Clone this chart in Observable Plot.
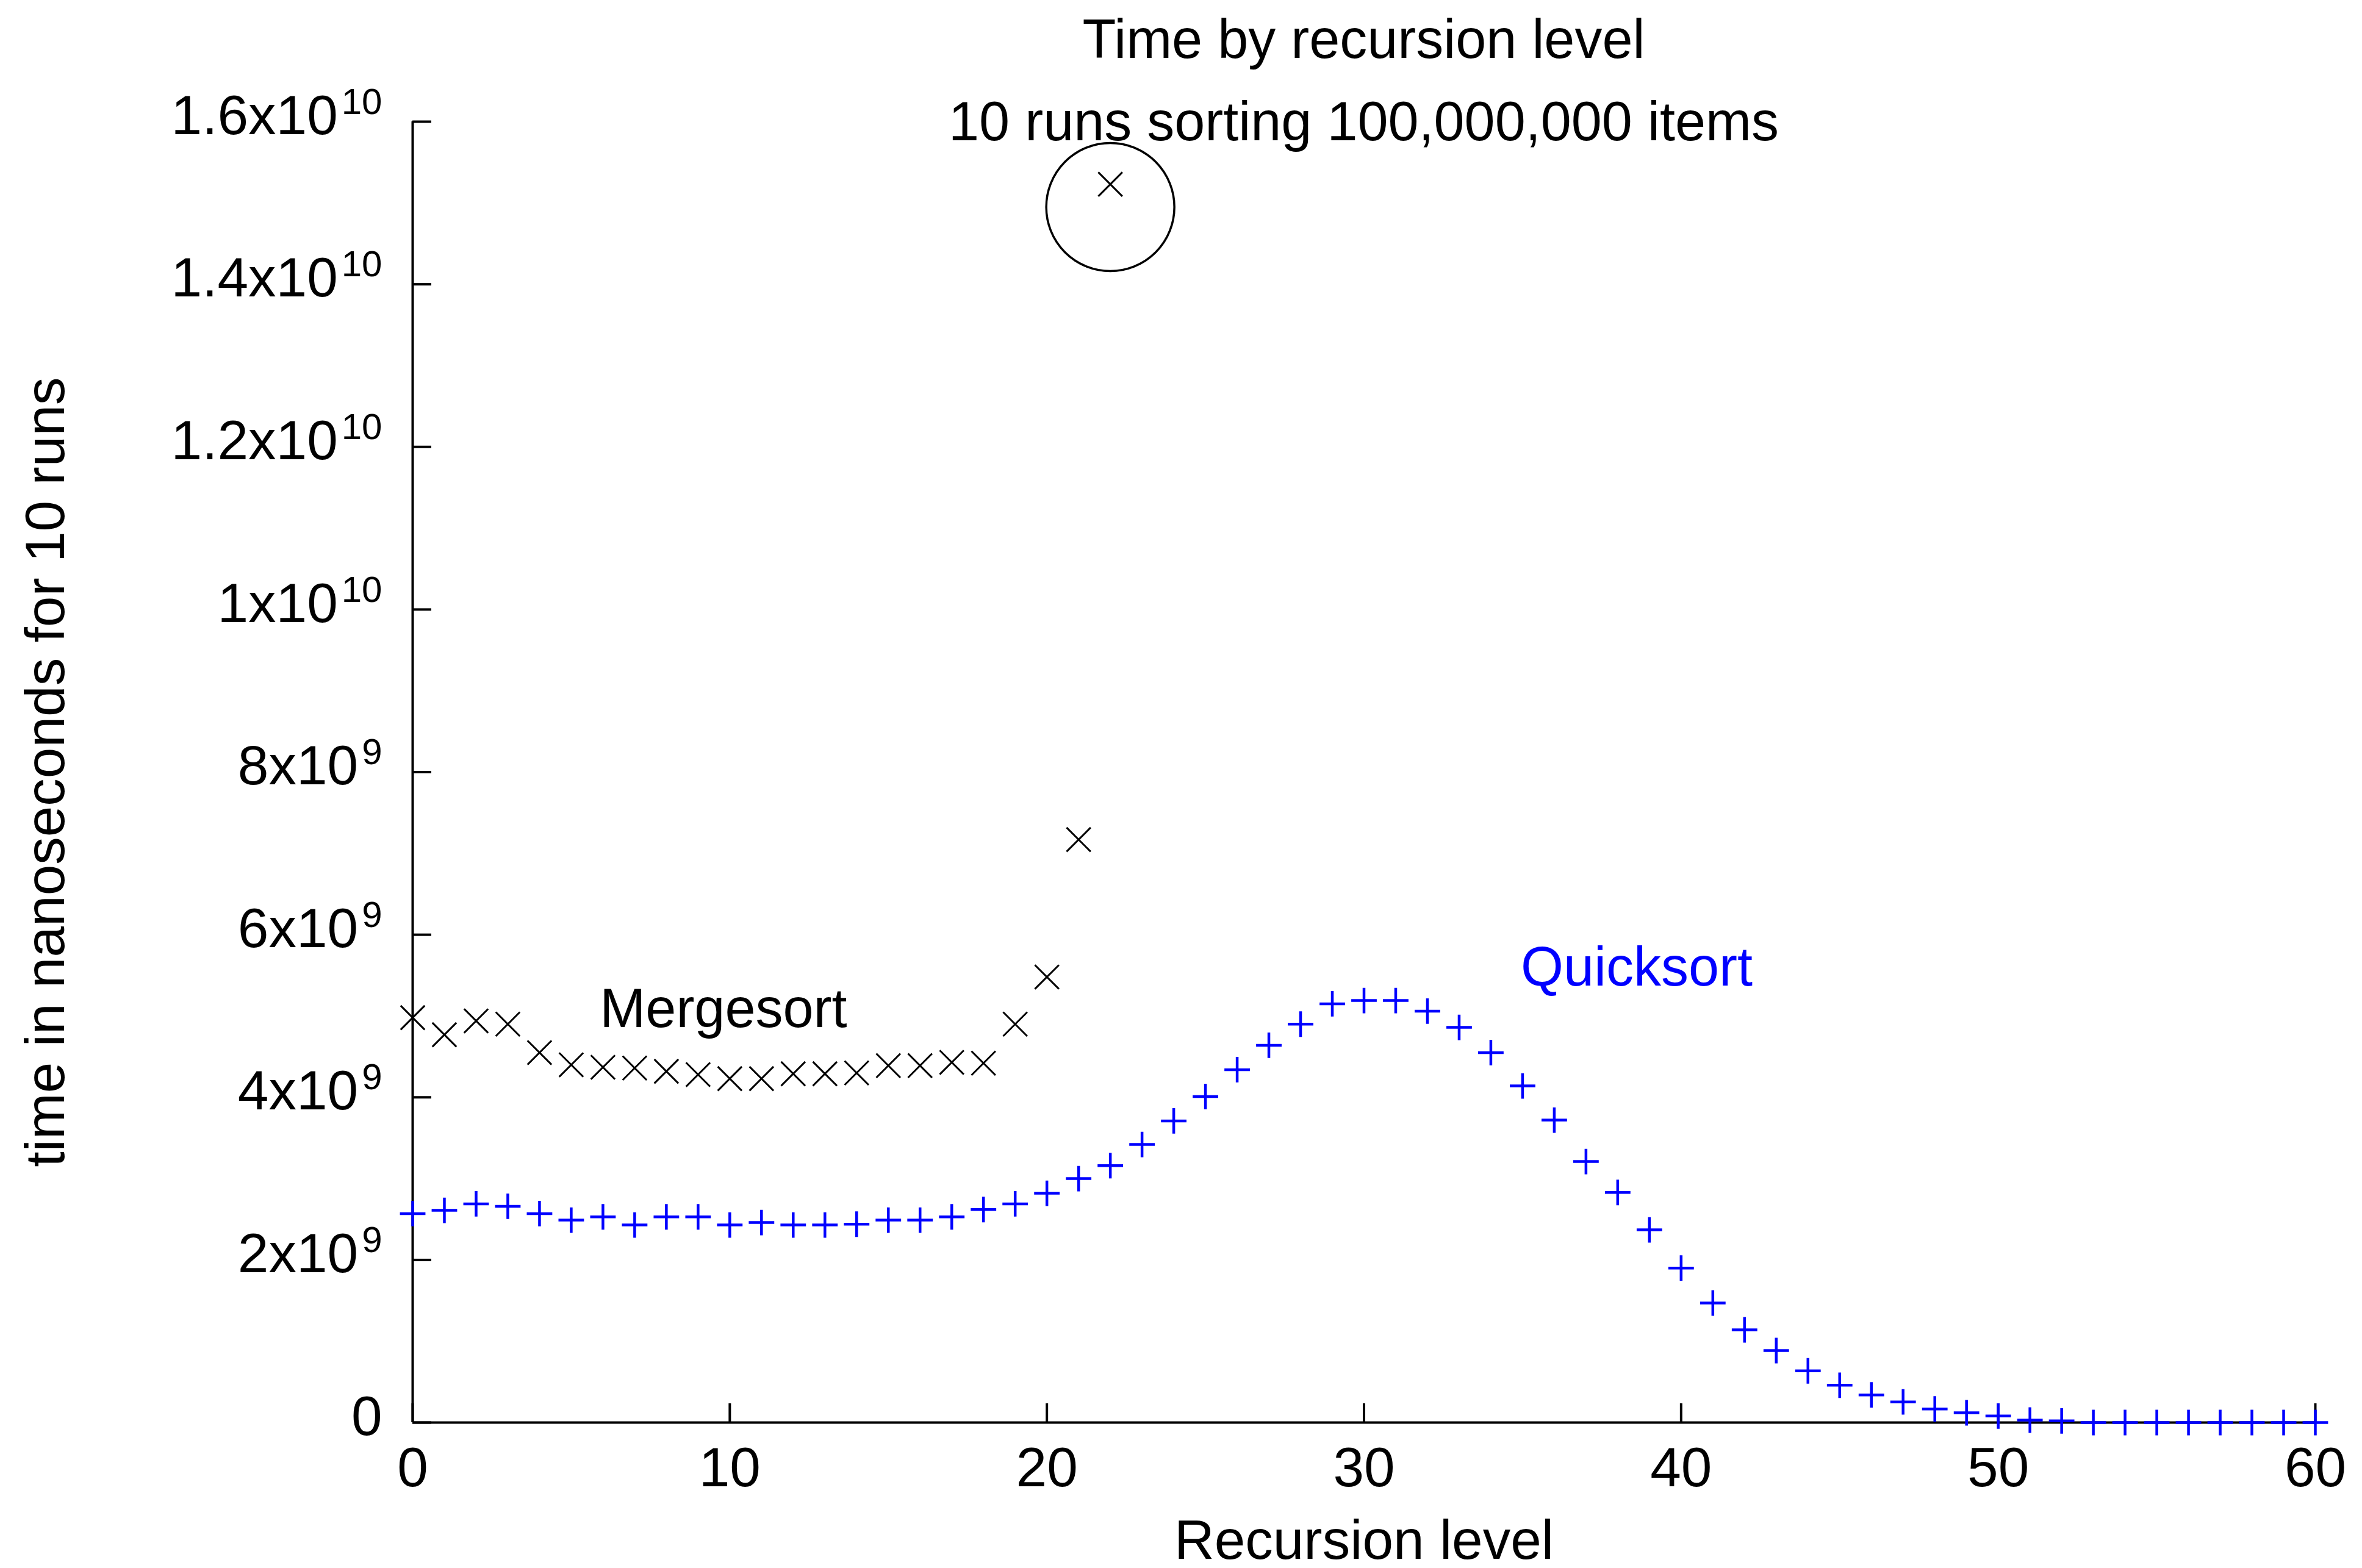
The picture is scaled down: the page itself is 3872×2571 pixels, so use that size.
<!DOCTYPE html>
<html>
<head>
<meta charset="utf-8">
<script src="https://cdn.jsdelivr.net/npm/d3@7"></script>
<script src="https://cdn.jsdelivr.net/npm/@observablehq/plot@0.6"></script>
<style>
  body { margin: 0; background: #fff; }
  #wrap { position: relative; width: 3872px; height: 2571px; font-family: "Liberation Sans", Arial, sans-serif; }
  #wrap svg { position: absolute; left: 0; top: 0; }
  .ttl { position: absolute; left: 676px; width: 3119px; text-align: center; font-size: 90px; line-height: 90px; color: #000; white-space: nowrap; }
</style>
</head>
<body>
<div id="wrap"></div>
<script>
// ---- data ----
const titleText = "Time by recursion level";
const subtitleText = "10 runs sorting 100,000,000 items";
const xLabel = "Recursion level";
const yLabel = "time in nanoseconds for 10 runs";

const mergesortLevel = [0,1,2,3,4,5,6,7,8,9,10,11,12,13,14,15,16,17,18,19,20,21,22];
const mergesortTime = [4.98e9,4.77e9,4.94e9,4.90e9,4.55e9,4.40e9,4.37e9,4.36e9,4.32e9,4.28e9,4.23e9,4.23e9,4.29e9,4.29e9,4.30e9,4.39e9,4.39e9,4.43e9,4.42e9,4.90e9,5.48e9,7.17e9,1.523e10];

const quicksortLevel = [0,1,2,3,4,5,6,7,8,9,10,11,12,13,14,15,16,17,18,19,20,21,22,23,24,25,26,27,28,29,30,31,32,33,34,35,36,37,38,39,40,41,42,43,44,45,46,47,48,49,50,51,52,53,54,55,56,57,58,59,60];
const quicksortTime = [2.57e9,2.61e9,2.69e9,2.66e9,2.57e9,2.49e9,2.53e9,2.43e9,2.53e9,2.53e9,2.43e9,2.46e9,2.43e9,2.43e9,2.44e9,2.49e9,2.49e9,2.53e9,2.62e9,2.69e9,2.82e9,3.00e9,3.16e9,3.42e9,3.71e9,4.01e9,4.34e9,4.64e9,4.90e9,5.15e9,5.19e9,5.19e9,5.06e9,4.86e9,4.55e9,4.14e9,3.72e9,3.21e9,2.83e9,2.37e9,1.90e9,1.47e9,1.14e9,0.885e9,0.636e9,0.459e9,0.34e9,0.254e9,0.167e9,0.12e9,0.08e9,0.03e9,0.02e9,0,0,0,0,0,0,0,0];

const outlierLevel = [22];
const outlierCentre = [1.495e10];

const seriesLabels = ["Mergesort", "Quicksort"];
const seriesLabelX = [9.8, 38.6];
const seriesLabelY = [5.08e9, 5.59e9];
const seriesColors = ["#000000", "#0000ff"];

const xTicks = [0,10,20,30,40,50,60];
const yTicks = [0,2e9,4e9,6e9,8e9,1e10,1.2e10,1.4e10,1.6e10];
const yTickMantissa = ["0","2","4","6","8","1","1.2","1.4","1.6"];
const yTickExponent = ["","9","9","9","9","10","10","10","10"];

// ---- build tables ----
const mergesort = mergesortLevel.map((x, i) => ({x, y: mergesortTime[i]}));
const quicksort = quicksortLevel.map((x, i) => ({x, y: quicksortTime[i]}));
const outlier = outlierLevel.map((x, i) => ({x, y: outlierCentre[i]}));
const labels = seriesLabels.map((t, i) => ({text: t, x: seriesLabelX[i], y: seriesLabelY[i], color: seriesColors[i]}));

const yMain = d => {
  const i = yTicks.indexOf(d);
  if (i < 0) return "";
  return yTickExponent[i] ? yTickMantissa[i] + "x10" : yTickMantissa[i];
};

const chart = Plot.plot({
  width: 3872,
  height: 2571,
  marginLeft: 676,
  marginRight: 77,
  marginTop: 199,
  marginBottom: 239,
  style: {fontFamily: "'Liberation Sans', Arial, sans-serif", fontSize: "91px", color: "#000", background: "#fff", overflow: "visible"},
  x: {domain: [0, 60]},
  y: {domain: [0, 1.6e10]},
  marks: [
    Plot.axisX({ticks: xTicks, tickSize: -31, tickPadding: 71, strokeWidth: 4, tickFormat: d => String(d),
      label: xLabel, labelAnchor: "center", labelOffset: 223, labelArrow: "none"}),
    Plot.axisY({ticks: yTicks, tickSize: -31, tickPadding: 81, strokeWidth: 4, tickFormat: yMain,
      label: yLabel, labelAnchor: "center", labelOffset: 636, labelArrow: "none"}),
    Plot.ruleX([0], {stroke: "#000", strokeWidth: 4}),
    Plot.ruleY([0], {stroke: "#000", strokeWidth: 4}),
    Plot.dot(outlier, {x: "x", y: "y", r: 105, stroke: "#000", strokeWidth: 3.5, fill: "none"}),
    Plot.dot(mergesort, {x: "x", y: "y", symbol: "times", r: 18, stroke: "#000", strokeWidth: 3}),
    Plot.dot(quicksort, {x: "x", y: "y", symbol: "plus", r: 13.5, stroke: "#0000ff", strokeWidth: 4.5}),
    Plot.text(labels, {filter: d => d.color === "#000000", x: "x", y: "y", text: "text", fill: "#000000", fontSize: 90}),
    Plot.text(labels, {filter: d => d.color === "#0000ff", x: "x", y: "y", text: "text", fill: "#0000ff", fontSize: 90})
  ]
});

// superscript exponents on the y tick labels
const ns = "http://www.w3.org/2000/svg";
chart.querySelectorAll('g[aria-label="y-axis tick label"] text').forEach(t => {
  const s = t.textContent;
  const i = yTicks.findIndex(v => yMain(v) === s);
  if (i < 0) return;
  t.textContent = "";
  const a = document.createElementNS(ns, "tspan");
  a.textContent = s;
  a.setAttribute("dy", "-9");
  t.appendChild(a);
  if (yTickExponent[i]) {
    const b = document.createElementNS(ns, "tspan");
    b.textContent = yTickExponent[i];
    b.setAttribute("font-size", "60");
    b.setAttribute("dy", "-33");
    b.setAttribute("dx", "6");
    t.appendChild(b);
  }
});

const wrap = document.getElementById("wrap");
wrap.appendChild(chart);
const t1 = document.createElement("div");
t1.className = "ttl"; t1.style.top = "19px"; t1.textContent = titleText;
const t2 = document.createElement("div");
t2.className = "ttl"; t2.style.top = "154px"; t2.textContent = subtitleText;
wrap.appendChild(t1);
wrap.appendChild(t2);
</script>
</body>
</html>
